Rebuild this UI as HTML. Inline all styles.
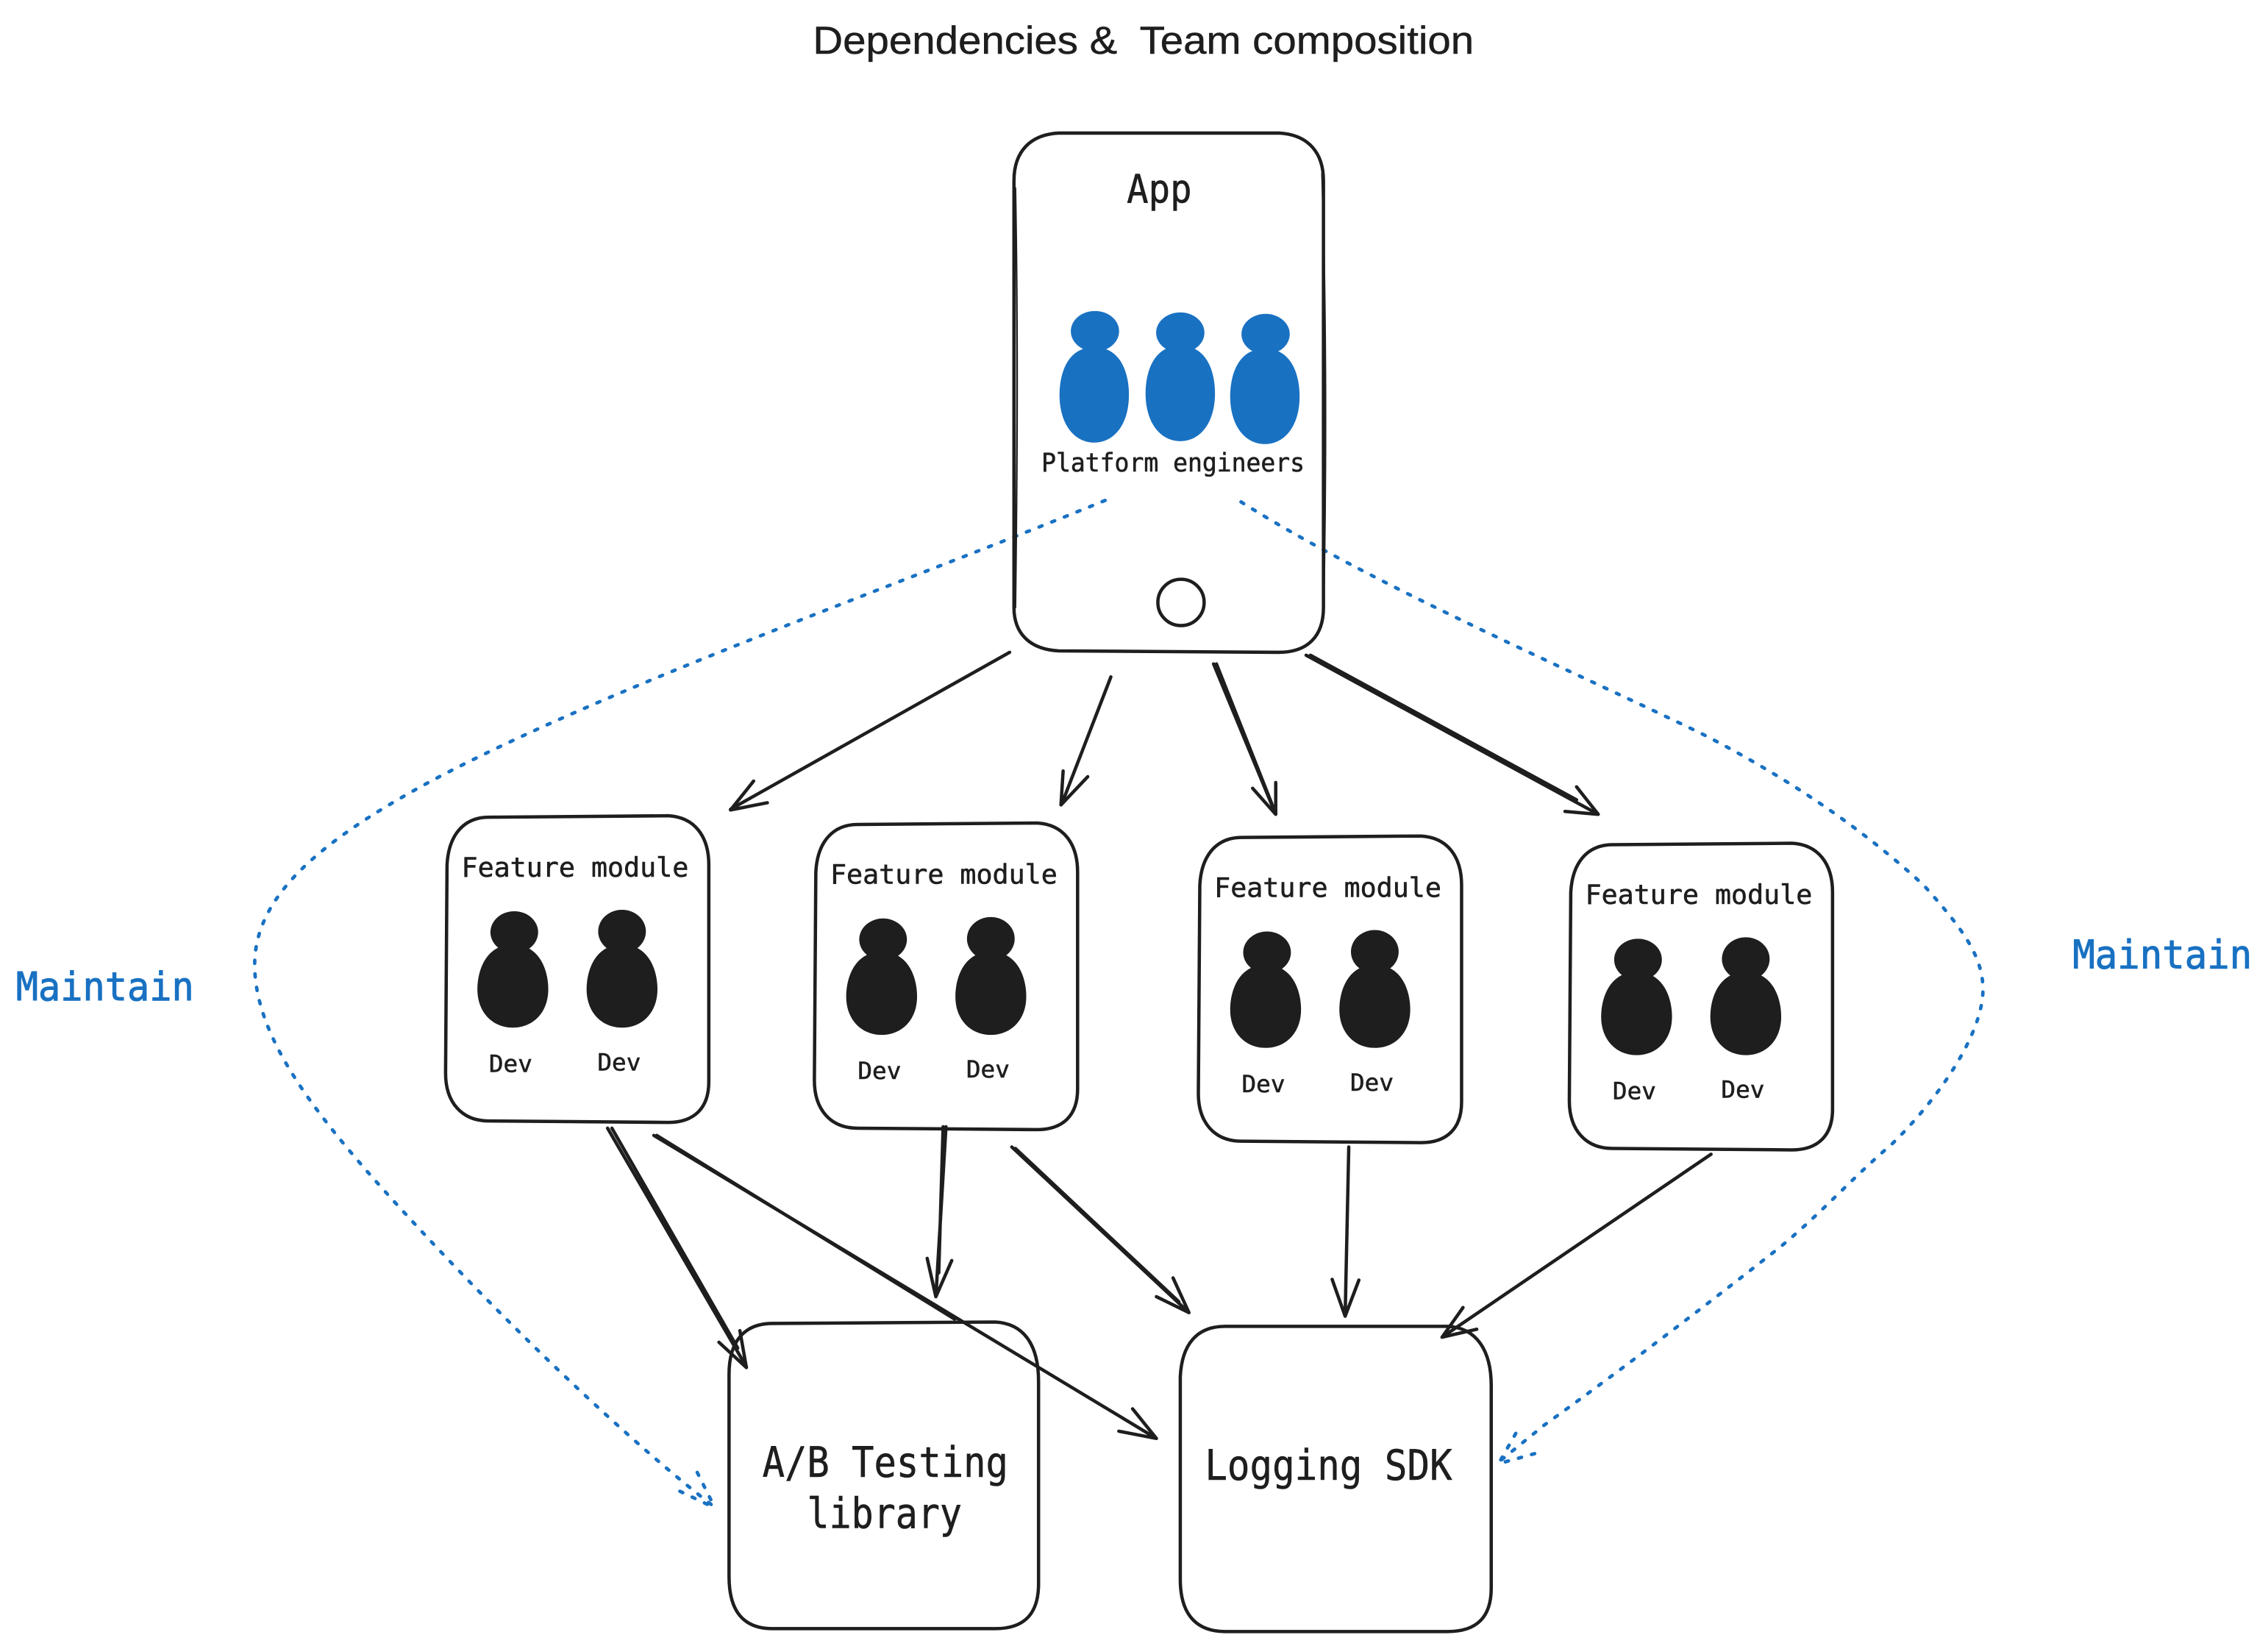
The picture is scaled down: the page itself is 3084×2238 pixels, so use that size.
<!DOCTYPE html>
<html lang="en"><head><meta charset="utf-8"><title>Dependencies &amp; Team composition</title>
<style>
html,body{margin:0;padding:0;background:#fff}
svg{display:block}
.k{fill:none;stroke:#1e1e1e;stroke-width:2.3;stroke-linecap:round;stroke-linejoin:round}
.t{stroke-width:1.2}
.d{fill:none;stroke:#1971c2;stroke-width:2.4;stroke-linecap:round;stroke-dasharray:2.2 7.2}
.m{font-family:"DejaVu Sans Mono","Liberation Mono",monospace;fill:#1e1e1e;stroke:#1e1e1e;stroke-width:.3}
.b{fill:#1971c2;stroke:#1971c2;stroke-width:.5}
.s{font-family:"Liberation Sans",sans-serif;fill:#1e1e1e;stroke:#1e1e1e;stroke-width:.25}
</style></head><body>
<svg xmlns="http://www.w3.org/2000/svg" width="3084" height="2238" viewBox="0 0 1568 1138">
<defs>
<path id="body" d="M0 -29C18 -29 24.5 -12 24.5 2C24.5 18 14 28.5 0 28.5C-14 28.5 -24.5 18 -24.5 2C-24.5 -12 -18 -29 0 -29Z"/>
<path id="bb" d="M0 -33C19 -33 24 -14 24 0C24 20 14 33 0 33C-14 33 -24 20 -24 0C-24 -14 -19 -33 0 -33Z"/>
<g id="mod">
<path class="k" d="M338 565L462 564C480 565 490 578 490 598L490 748C490 766 480 776 462 776L338 775C319 775 308 762 308 742L309 598C310 578 320 565 338 565Z"/>
<g fill="#1e1e1e">
<ellipse cx="355.5" cy="644.5" rx="16.5" ry="14.5"/><use href="#body" x="354.5" y="682"/>
<ellipse cx="430" cy="644" rx="16.5" ry="15"/><use href="#body" x="430" y="682"/>
</g>
</g>
</defs>
<rect width="1568" height="1138" fill="#fff"/>
<text class="s" x="562" y="37" font-size="27" textLength="457" lengthAdjust="spacingAndGlyphs" xml:space="preserve">Dependencies &amp;  Team composition</text>

<!-- dotted -->
<path class="d" d="M764 346C620 405 420 475 298 540C220 582 176 620 176 667C176 715 215 765 253 809C320 885 420 985 494 1042"/>
<path class="d" d="M470 1031L493 1042M482 1018L494 1042"/>
<path class="d" d="M858 347C950 405 1090 465 1178 508C1240 540 1290 575 1330 612C1355 640 1371 660 1371 684C1371 715 1340 760 1308 791C1280 815 1260 838 1231 862C1170 910 1110 955 1068 985L1036 1011"/>
<path class="d" d="M1048 991L1036 1012M1061 1005L1036 1012"/>

<!-- App -->
<path class="k" d="M732 92L884 92C904 93 915 105 915 125L915 420C915 440 904 451 884 451L732 450C712 449 701 438 701 420L701 125C701 104 713 93 732 92Z"/>
<path class="k t" d="M914 120C917 220 917 330 915 425M702 130C704 240 703 340 702 420"/>
<circle cx="816.5" cy="416.5" r="16" class="k"/>
<text class="m" x="779" y="140" font-size="27" textLength="45" lengthAdjust="spacingAndGlyphs">App</text>
<g fill="#1971c2">
<ellipse cx="757" cy="229" rx="16.7" ry="14"/><use href="#bb" x="756.5" y="273"/>
<ellipse cx="816" cy="230" rx="16.7" ry="14"/><use href="#bb" x="816" y="272"/>
<ellipse cx="875" cy="231" rx="16.7" ry="14"/><use href="#bb" x="874.5" y="274"/>
</g>
<text class="m" x="720" y="326" font-size="17.5" textLength="182" lengthAdjust="spacingAndGlyphs">Platform engineers</text>

<!-- feature modules -->
<use href="#mod"/>
<text class="m" x="319" y="606" font-size="18.5" textLength="157" lengthAdjust="spacingAndGlyphs">Feature module</text>
<text class="m" x="338" y="741" font-size="16.5" textLength="30" lengthAdjust="spacingAndGlyphs">Dev</text>
<text class="m" x="413" y="740" font-size="16.5" textLength="30" lengthAdjust="spacingAndGlyphs">Dev</text>
<g transform="translate(255,5)">
<use href="#mod"/>
<text class="m" x="319" y="606" font-size="18.5" textLength="157" lengthAdjust="spacingAndGlyphs">Feature module</text>
<text class="m" x="338" y="741" font-size="16.5" textLength="30" lengthAdjust="spacingAndGlyphs">Dev</text>
<text class="m" x="413" y="740" font-size="16.5" textLength="30" lengthAdjust="spacingAndGlyphs">Dev</text>
</g>
<g transform="translate(520.5,14)">
<use href="#mod"/>
<text class="m" x="319" y="606" font-size="18.5" textLength="157" lengthAdjust="spacingAndGlyphs">Feature module</text>
<text class="m" x="338" y="741" font-size="16.5" textLength="30" lengthAdjust="spacingAndGlyphs">Dev</text>
<text class="m" x="413" y="740" font-size="16.5" textLength="30" lengthAdjust="spacingAndGlyphs">Dev</text>
</g>
<g transform="translate(777,19)">
<use href="#mod"/>
<text class="m" x="319" y="606" font-size="18.5" textLength="157" lengthAdjust="spacingAndGlyphs">Feature module</text>
<text class="m" x="338" y="741" font-size="16.5" textLength="30" lengthAdjust="spacingAndGlyphs">Dev</text>
<text class="m" x="413" y="740" font-size="16.5" textLength="30" lengthAdjust="spacingAndGlyphs">Dev</text>
</g>

<!-- bottom boxes -->
<path class="k" d="M534 915L688 914C708 915 718 930 718 955L718 1095C718 1116 708 1126 688 1126L534 1126C514 1126 504 1114 504 1090L504 950C504 928 514 915 534 915Z"/>
<path class="k" d="M847 917L1001 917C1021 918 1031 934 1031 958L1031 1098C1031 1118 1021 1128 1001 1128L847 1128C827 1128 816 1116 816 1092L816 952C817 930 827 917 847 917Z"/>
<text class="m" x="527" y="1021" font-size="29" textLength="170" lengthAdjust="spacingAndGlyphs">A/B Testing</text>
<text class="m" x="558" y="1056.5" font-size="29" textLength="107" lengthAdjust="spacingAndGlyphs">library</text>
<text class="m" x="833" y="1023" font-size="29" textLength="171" lengthAdjust="spacingAndGlyphs">Logging SDK</text>

<!-- maintain -->
<text class="m b" x="11" y="691.5" font-size="27" textLength="123" lengthAdjust="spacingAndGlyphs">Maintain</text>
<text class="m b" x="1433" y="669.5" font-size="27" textLength="124" lengthAdjust="spacingAndGlyphs">Maintain</text>

<!-- arrows top -->
<path class="k" d="M698 451L505 559.5M530.5 555L505 560L521 540"/>
<path class="k" d="M768 468L734 556M735 533L733.5 556.5L752 537"/>
<path class="k" d="M839 459L882 563M866 545L882 563L882 541M841 459L881 560"/>
<path class="k" d="M903 453L1105 563M1082 561L1105 563L1090 544M906 453L1090 553"/>
<!-- arrows bottom -->
<path class="k" d="M420 780L516 945M497 928L516 945.5L511.5 920M423 780L510 932"/>
<path class="k" d="M452 785L799.5 994.5M773.5 989.5L799.5 994.5L783 974M454 785L660 912"/>
<path class="k" d="M654 779L647 896.5M641 870L647 896.5L658 871.5M652 779L649 880"/>
<path class="k" d="M699.5 793L822 907.5M799.5 896.5L822 907.5L811 883.5M702 794L815 900"/>
<path class="k" d="M932.5 793L930 910M921 884.5L930 910L939.5 885"/>
<path class="k" d="M1183 798L997 924.5M1011.5 904L997 924.5L1021 919"/>
</svg>
</body></html>
